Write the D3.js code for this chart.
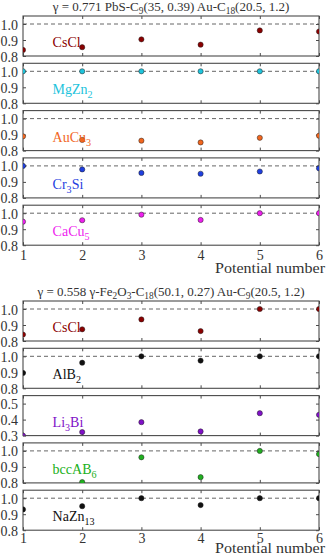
<!DOCTYPE html>
<html>
<head>
<meta charset="utf-8">
<script src="https://cdn.jsdelivr.net/npm/d3@7"></script>
<style>
  body { margin: 0; background: #fff; }
  text { font-family: "Liberation Serif", "DejaVu Serif", serif; }
</style>
</head>
<body>
<script>
//potential numbers on the x axis
var potentials = [1, 2, 3, 4, 5, 6];
var xTicks = [1, 2, 3, 4, 5, 6];

//titles of the two blocks (_{..} marks a subscript)
var blockTitles = [
    "γ = 0.771 PbS-C_{9}(35, 0.39) Au-C_{18}(20.5, 1.2)",
    "γ = 0.558 γ-Fe_{2}O_{3}-C_{18}(50.1, 0.27) Au-C_{9}(20.5, 1.2)"
];

//structure names per block
var structuresTop = ["CsCl", "MgZn_{2}", "AuCu_{3}", "Cr_{3}Si", "CaCu_{5}"];
var structuresBottom = ["CsCl", "AlB_{2}", "Li_{3}Bi", "bccAB_{6}", "NaZn_{13}"];

//values
var csclTop = [0.838, 0.855, 0.904, 0.871, 0.960, 0.953];
var mgzn2Top = [1.0, 1.0, 1.0, 1.0, 1.0, 1.0];
var aucu3Top = [0.889, 0.867, 0.862, 0.851, 0.880, 0.893];
var cr3siTop = [1.0, 0.978, 0.956, 0.951, 0.965, 0.985];
var cacu5Top = [0.947, 0.956, 0.991, 0.958, 1.0, 1.0];

var csclBottom = [0.840, 0.873, 0.935, 0.862, 1.0, 1.0];
var alb2Bottom = [0.896, 0.960, 1.0, 0.973, 1.0, 1.0];
var li3biBottom = [0.300, 0.322, 0.384, 0.326, 0.440, 0.430];
var bccab6Bottom = [0.75, 0.805, 0.960, 0.836, 1.0, 0.980];
var nazn13Bottom = [0.930, 0.950, 1.0, 0.957, 1.0, 1.0];

//y ranges and tick labels
var yDomainNormal = [0.8, 1.05];
var yTicksNormal = [0.8, 0.9, 1.0];
var yDomainLi3Bi = [0.3, 0.55];
var yTicksLi3Bi = [0.3, 0.4, 0.5];

var colorsTop = ["#8b0000", "#1fc4dc", "#f2661e", "#1f3fe0", "#ee1fee"];
var colorsBottom = ["#8b0000", "#111111", "#8010c8", "#20b020", "#111111"];

var blocks = [
    {title: blockTitles[0], names: structuresTop, colors: colorsTop,
     series: [csclTop, mgzn2Top, aucu3Top, cr3siTop, cacu5Top],
     domains: [yDomainNormal, yDomainNormal, yDomainNormal, yDomainNormal, yDomainNormal],
     ticks: [yTicksNormal, yTicksNormal, yTicksNormal, yTicksNormal, yTicksNormal]},
    {title: blockTitles[1], names: structuresBottom, colors: colorsBottom,
     series: [csclBottom, alb2Bottom, li3biBottom, bccab6Bottom, nazn13Bottom],
     domains: [yDomainNormal, yDomainNormal, yDomainLi3Bi, yDomainNormal, yDomainNormal],
     ticks: [yTicksNormal, yTicksNormal, yTicksLi3Bi, yTicksNormal, yTicksNormal]}
];

//layout
var width = 328, height = 560;
var left = 23, right = 319;
var blockOffset = 285;
var panelTop = 16, panelPitch = 47.3, panelHeight = 40;
var xTickPad = [5, 3];       //per block, the lower block is squeezed at the page bottom
var xLabelGap = [27.5, 23];
var frameColor = "#4a4a4a";

var svg = d3.select("body").append("svg")
    .attr("width", width)
    .attr("height", height);

var x = d3.scaleLinear().domain([1, 6]).range([left, right]);

//write text with _{..} subscripts as tspans
function richText(sel, str, size){
    var parts = str.split(/(_\{[^}]*\})/).filter(function(s){ return s.length; });
    var shifted = false;
    parts.forEach(function(p){
        if (p.indexOf("_{") === 0){
            sel.append("tspan")
                .attr("dy", size * 0.28)
                .style("font-size", (size * 0.72) + "px")
                .text(p.slice(2, -1));
            shifted = true;
        } else {
            sel.append("tspan")
                .attr("dy", shifted ? -size * 0.28 : 0)
                .text(p);
            shifted = false;
        }
    });
}

blocks.forEach(function(block, b){
    var g = svg.append("g").attr("transform", "translate(0," + (b * blockOffset) + ")");

    //block title
    var t = g.append("text")
        .attr("x", (left + right) / 2)
        .attr("y", 10.5)
        .attr("text-anchor", "middle")
        .style("font-size", "13px")
        .attr("fill", "#333");
    richText(t, block.title, 13);

    block.series.forEach(function(vals, i){
        var top = panelTop + i * panelPitch;
        var y = d3.scaleLinear().domain(block.domains[i]).range([top + panelHeight, top]);
        var isLast = i === block.series.length - 1;

        var clipId = "clip" + b + "_" + i;
        g.append("clipPath").attr("id", clipId)
            .append("rect")
            .attr("x", left).attr("y", top)
            .attr("width", right - left).attr("height", panelHeight);

        //reference line at 1.0
        if (block.domains[i][1] > 1.0){
            g.append("line")
                .attr("x1", left).attr("x2", right)
                .attr("y1", y(1.0)).attr("y2", y(1.0))
                .attr("stroke", "#666")
                .attr("stroke-width", 1)
                .attr("stroke-dasharray", "4,3");
        }

        //axes: inward ticks on all four sides
        var axL = d3.axisLeft(y).tickValues(block.ticks[i]).tickSize(-3).tickPadding(5)
            .tickFormat(d3.format(".1f"));
        var axR = d3.axisRight(y).tickValues(block.ticks[i]).tickSize(-3).tickFormat("");
        var axT = d3.axisTop(x).tickValues(xTicks).tickSize(-3).tickFormat("");
        var axB = d3.axisBottom(x).tickValues(xTicks).tickSize(-3).tickPadding(xTickPad[b])
            .tickFormat(isLast ? d3.format("d") : "");

        var gl = g.append("g").attr("transform", "translate(" + left + ",0)").call(axL);
        g.append("g").attr("transform", "translate(" + right + ",0)").call(axR);
        g.append("g").attr("transform", "translate(0," + top + ")").call(axT);
        var gb = g.append("g").attr("transform", "translate(0," + (top + panelHeight) + ")").call(axB);

        g.selectAll(".domain").remove();
        g.selectAll(".tick line").attr("stroke", frameColor);
        gl.selectAll("text")
            .style("font-size", "14px")
            .style("font-family", "Liberation Serif, serif")
            .attr("fill", "#333")
            .attr("dy", "0.36em");
        gb.selectAll("text")
            .style("font-size", "14px")
            .style("font-family", "Liberation Serif, serif")
            .attr("fill", "#333");

        //frame
        g.append("rect")
            .attr("x", left).attr("y", top)
            .attr("width", right - left).attr("height", panelHeight)
            .attr("fill", "none")
            .attr("stroke", frameColor)
            .attr("stroke-width", 1.1);

        //points
        g.append("g").attr("clip-path", "url(#" + clipId + ")")
            .selectAll("circle")
            .data(vals)
            .enter()
            .append("circle")
            .attr("cx", function(d, k){ return x(potentials[k]); })
            .attr("cy", function(d){ return y(d); })
            .attr("r", 2.6)
            .attr("fill", block.colors[i])
            .attr("stroke", "#222")
            .attr("stroke-width", 0.5);

        //structure label
        var lbl = g.append("text")
            .attr("x", x(1.5))
            .attr("y", top + panelHeight - 9)
            .style("font-size", "14px")
            .attr("fill", block.colors[i]);
        richText(lbl, block.names[i], 14);
    });

    //x axis label
    g.append("text")
        .attr("x", 325)
        .attr("y", panelTop + 4 * panelPitch + panelHeight + xLabelGap[b])
        .attr("text-anchor", "end")
        .attr("textLength", 110)
        .attr("lengthAdjust", "spacingAndGlyphs")
        .style("font-size", "15px")
        .attr("fill", "#333")
        .text("Potential number");
});
</script>
</body>
</html>
